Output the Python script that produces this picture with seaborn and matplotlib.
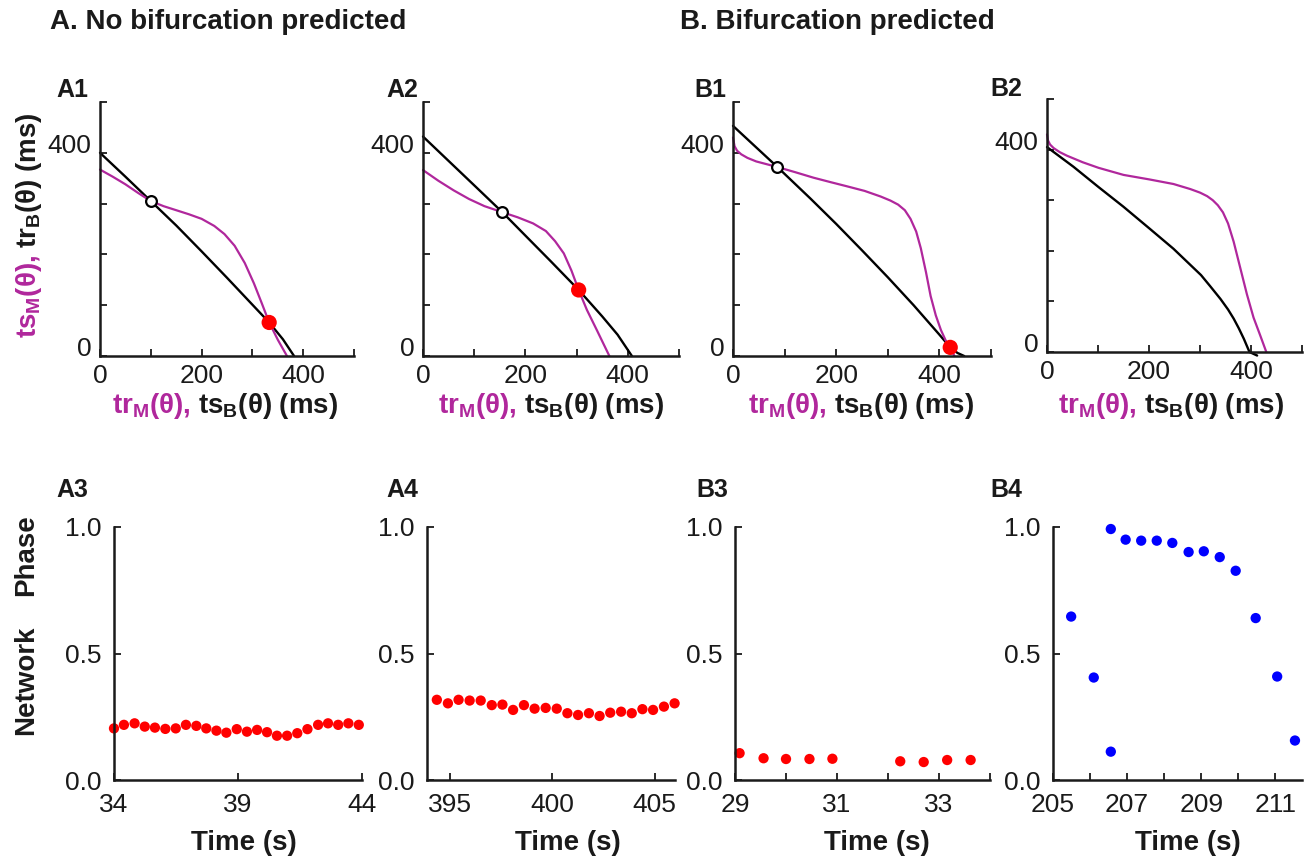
import matplotlib
matplotlib.use("Agg")
import matplotlib.pyplot as plt
import matplotlib.transforms as mtransforms
import seaborn as sns

W, H = 1311, 860
PURPLE = "#b0279c"
INK = "#1a1a1a"

# ---------------- top row: curves in ms ----------------
a1_blk_x = [0, 50, 100, 150, 200, 250, 300, 333, 360, 382]
a1_blk_y = [400, 353, 305, 257, 206, 154, 101, 66, 33, 0]
a1_pur_x = [0, 25, 50, 75, 100, 125, 150, 175, 200, 225, 245, 265, 285, 303, 318, 333, 350, 368]
a1_pur_y = [367, 353, 338, 321, 305, 295, 287, 279, 270, 256, 240, 217, 183, 143, 105, 66, 32, 0]
a1_open = (100, 305)
a1_fill = (333, 66)

a2_blk_x = [0, 50, 100, 155, 200, 250, 304, 350, 380, 408]
a2_blk_y = [432, 384, 336, 283, 237, 186, 130, 78, 42, 0]
a2_pur_x = [0, 30, 60, 90, 120, 155, 185, 215, 240, 258, 275, 290, 304, 320, 340, 364]
a2_pur_y = [366, 345, 326, 309, 295, 283, 273, 261, 246, 226, 202, 168, 130, 91, 50, 0]
a2_open = (155, 283)
a2_fill = (304, 130)

b1_blk_x = [0, 86, 150, 200, 250, 300, 350, 400, 421, 435, 448]
b1_blk_y = [453, 372, 310, 260, 208, 155, 100, 42, 17, 6, 0]
b1_pur_x = [0, 3, 8, 16, 28, 45, 86, 120, 156, 190, 221, 255, 286, 305, 320, 333, 344,
            355, 364, 374, 383, 393, 403, 412, 421, 429]
b1_pur_y = [430, 413, 404, 397, 390, 383, 372, 362, 351, 342, 334, 325, 314, 306, 298, 287, 270,
            245, 212, 165, 118, 80, 51, 31, 17, 0]
b1_open = (86, 372)
b1_fill = (421, 17)

b2_blk_x = [0, 52, 101, 150, 201, 248, 302, 320, 340, 355, 366, 376, 386, 397, 412]
b2_blk_y = [405, 366, 326, 287, 244, 204, 152, 130, 105, 84, 66, 47, 26, 0, -7]
b2_pur_x = [0, 2, 6, 13, 25, 39, 70, 101, 150, 201, 248, 281, 300, 314, 325, 335, 345,
            355, 366, 379, 392, 405, 418, 430]
b2_pur_y = [430, 418, 410, 403, 395, 388, 375, 364, 350, 341, 332, 322, 315, 308, 300, 290, 276,
            254, 218, 166, 114, 68, 33, 0]

# ---------------- bottom row: network phase vs time ----------------
a3_t = [34.00, 34.40, 34.83, 35.24, 35.65, 36.07, 36.49, 36.90, 37.32, 37.72, 38.13, 38.53, 38.95,
        39.36, 39.77, 40.17, 40.57, 40.98, 41.39, 41.80, 42.23, 42.63, 43.04, 43.45, 43.87]
a3_ph = [0.204, 0.218, 0.224, 0.211, 0.207, 0.202, 0.204, 0.218, 0.214, 0.204, 0.195, 0.187, 0.201,
         0.191, 0.198, 0.189, 0.175, 0.175, 0.185, 0.201, 0.218, 0.224, 0.218, 0.224, 0.218]

a4_t = [394.38, 394.92, 395.44, 395.98, 396.52, 397.06, 397.58, 398.10, 398.63, 399.15, 399.69, 400.23,
        400.75, 401.27, 401.80, 402.32, 402.84, 403.37, 403.89, 404.41, 404.93, 405.46, 405.98]
a4_ph = [0.317, 0.303, 0.317, 0.314, 0.314, 0.296, 0.298, 0.277, 0.296, 0.282, 0.285, 0.282,
         0.264, 0.257, 0.264, 0.253, 0.266, 0.270, 0.264, 0.280, 0.277, 0.290, 0.303]

b3_t = [29.09, 29.56, 30.00, 30.46, 30.91, 32.24, 32.70, 33.16, 33.62]
b3_ph = [0.106, 0.086, 0.083, 0.083, 0.084, 0.074, 0.071, 0.079, 0.079]

b4_t = [205.49, 206.10, 206.56, 206.56, 206.96, 207.38, 207.80, 208.22, 208.66, 209.07, 209.50,
        209.93, 210.47, 211.05, 211.53]
b4_ph = [0.646, 0.405, 0.112, 0.992, 0.950, 0.946, 0.946, 0.937, 0.901, 0.904, 0.881,
         0.827, 0.640, 0.409, 0.156]

sns.set_style("ticks")
plt.rcParams['font.family'] = ['Liberation Sans', 'DejaVu Sans']
plt.rcParams['axes.edgecolor'] = INK
plt.rcParams['text.color'] = INK
plt.rcParams['xtick.color'] = INK
plt.rcParams['ytick.color'] = INK
plt.rcParams['lines.solid_joinstyle'] = 'round'

fig = plt.figure(figsize=(W / 100, H / 100), dpi=100)


def px_axes(left, right, bottom, top):
    # axes box given in pixel coords of the reference (origin top-left)
    ax = fig.add_axes([left / W, 1 - bottom / H, (right - left) / W, (bottom - top) / H])
    sns.despine(ax=ax)
    for sp in ax.spines.values():
        sp.set_linewidth(1.8)
    return ax


def fig_text(x, y, s, **kw):
    return fig.text(x / W, 1 - y / H, s, **kw)


def colored_text(x, y, parts, rot=0, size=20, gap=7):
    r = fig.canvas.get_renderer()
    for s, c in parts:
        t = fig_text(x, y, s, color=c, fontsize=size, fontweight='bold', rotation=rot,
                     rotation_mode='anchor', ha='left', va='baseline')
        bb = t.get_window_extent(r)
        if rot == 0:
            x += bb.width + gap
        else:
            y -= bb.height + gap


def map_panel(ax, bx, by, px, py, open_pt=None, fill_pt=None):
    sns.lineplot(x=bx, y=by, ax=ax, color='black', linewidth=1.7, sort=False,
                 estimator=None, clip_on=False)
    sns.lineplot(x=px, y=py, ax=ax, color=PURPLE, linewidth=1.6, sort=False,
                 estimator=None, clip_on=False)
    if open_pt is not None:
        sns.scatterplot(x=[open_pt[0]], y=[open_pt[1]], ax=ax, color='white',
                        edgecolor='black', linewidth=1.6, s=60, zorder=5, clip_on=False)
    if fill_pt is not None:
        sns.scatterplot(x=[fill_pt[0]], y=[fill_pt[1]], ax=ax, color='red',
                        edgecolor='none', s=120, zorder=6, clip_on=False)
    ax.set_xlim(0, 500)
    ax.set_ylim(0, 500)
    ax.set_xticks([0, 100, 200, 300, 400, 500])
    ax.set_xticklabels(['0', '', '200', '', '400', ''])
    ax.set_yticks([0, 100, 200, 300, 400, 500])
    ax.set_yticklabels(['0', '', '', '', '400', ''])
    ax.tick_params(direction='in', length=5, width=1.3, labelsize=19, pad=6)
    shift = mtransforms.ScaledTranslation(0, 9 / 100, fig.dpi_scale_trans)
    for lab in ax.get_yticklabels():
        lab.set_transform(lab.get_transform() + shift)
    ax.set_xlabel('')
    ax.set_ylabel('')


def phase_panel(ax, t, ph, color, xlim, ticks, labels):
    sns.scatterplot(x=t, y=ph, ax=ax, color=color, edgecolor='none', s=55, clip_on=False)
    ax.set_xlim(*xlim)
    ax.set_ylim(0, 1)
    ax.set_xticks(ticks)
    ax.set_xticklabels(labels)
    ax.set_yticks([0, 0.5, 1.0])
    ax.set_yticklabels(['0.0', '0.5', '1.0'])
    ax.tick_params(direction='in', length=5, width=1.3, labelsize=19, pad=9)
    ax.set_xlabel('')
    ax.set_ylabel('')


# top row
ax = px_axes(100, 354, 356, 102)
map_panel(ax, a1_blk_x, a1_blk_y, a1_pur_x, a1_pur_y, a1_open, a1_fill)
ax = px_axes(423, 679, 356, 102)
map_panel(ax, a2_blk_x, a2_blk_y, a2_pur_x, a2_pur_y, a2_open, a2_fill)
ax = px_axes(733, 991, 356, 102)
map_panel(ax, b1_blk_x, b1_blk_y, b1_pur_x, b1_pur_y, b1_open, b1_fill)
ax = px_axes(1047, 1302, 352, 99)
map_panel(ax, b2_blk_x, b2_blk_y, b2_pur_x, b2_pur_y)

# bottom row
ax = px_axes(114, 362, 780, 527)
phase_panel(ax, a3_t, a3_ph, 'red', (34, 44), [34, 39, 44], ['34', '39', '44'])
ax = px_axes(427, 675, 780, 527)
phase_panel(ax, a4_t, a4_ph, 'red', (393.9, 406.0), [395, 400, 405], ['395', '400', '405'])
ax = px_axes(735, 990, 780, 527)
phase_panel(ax, b3_t, b3_ph, 'red', (29, 34), [29, 30, 31, 32, 33, 34],
            ['29', '', '31', '', '33', ''])
ax = px_axes(1053, 1302, 780, 527)
phase_panel(ax, b4_t, b4_ph, 'blue', (205, 211.72), [205, 206, 207, 208, 209, 210, 211],
            ['205', '', '207', '', '209', '', '211'])

# section titles and panel letters
fig_text(50, 29, 'A. No bifurcation predicted', fontsize=20, fontweight='bold', va='baseline')
fig_text(680, 29, 'B. Bifurcation predicted', fontsize=20, fontweight='bold', va='baseline')
for s, x, y in [('A1', 56, 97), ('A2', 386, 97), ('B1', 694, 97), ('B2', 990, 96),
                ('A3', 56, 497), ('A4', 386, 497), ('B3', 696, 497), ('B4', 990, 497)]:
    fig_text(x, y, s, fontsize=18, fontweight='bold', va='baseline')

# axis labels
for x0 in [112, 438, 748, 1058]:
    colored_text(x0, 413, [(r'tr$_\mathregular{M}$(θ),', PURPLE),
                           (r'ts$_\mathregular{B}$(θ) (ms)', INK)])
colored_text(36, 338, [(r'ts$_\mathregular{M}$(θ),', PURPLE),
                       (r'tr$_\mathregular{B}$(θ) (ms)', INK)], rot=90)

for xc in [244, 568, 877, 1188]:
    fig_text(xc, 850, 'Time (s)', fontsize=20, fontweight='bold', ha='center', va='baseline')
fig_text(26, 555, 'Phase', fontsize=20, fontweight='bold', rotation=90, ha='center', va='center')
fig_text(26, 680, 'Network', fontsize=20, fontweight='bold', rotation=90, ha='center', va='center')

fig.savefig('out.png', dpi=100, facecolor='white')
